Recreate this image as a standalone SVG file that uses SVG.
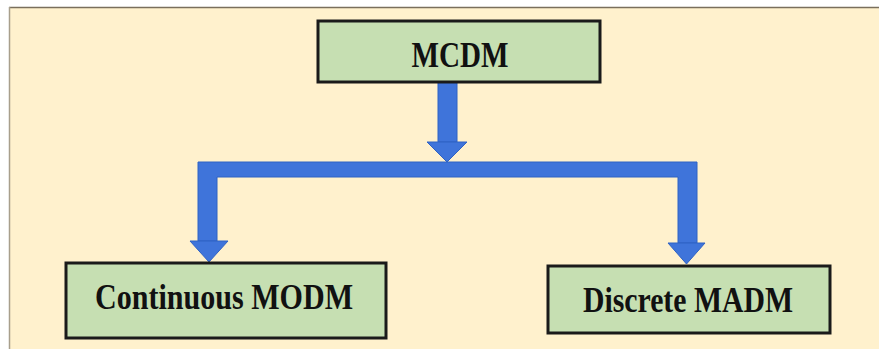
<svg xmlns="http://www.w3.org/2000/svg" width="879" height="349" viewBox="0 0 879 349">
  <style>
    .bg { fill: #FFF1CD; }
    .box { fill: #C6DFB2; stroke: #1A1A1A; stroke-width: 3; }
    .lbl { font-family: "Liberation Serif", "Times New Roman", serif; font-weight: bold; fill: #111; text-anchor: middle; }
    .arr { fill: #3F74DA; stroke: #2F62C4; stroke-width: 1; }
  </style>
  <rect x="0" y="0" width="879" height="349" fill="#FFFFFF"/>
  <rect class="bg" x="9" y="7" width="870" height="342"/>
  <line x1="9" y1="7.5" x2="879" y2="7.5" stroke="#7A6F5C" stroke-width="1.5"/>
  <line x1="9.5" y1="7" x2="9.5" y2="349" stroke="#A89F8C" stroke-width="1.5"/>

  <g id="connectors">
    <rect class="arr" x="438" y="82" width="19" height="60"/>
    <polygon class="arr" points="427,142 467,142 447,162"/>
    <path class="arr" d="M198,162 L697,162 L697,243 L678,243 L678,177 L217,177 L217,241 L198,241 Z"/>
    <polygon class="arr" points="190,241 228,241 209,262"/>
    <polygon class="arr" points="668,243 705,243 686.5,264"/>
  </g>

  <g id="node-mcdm">
    <rect class="box" x="318" y="21" width="282" height="61"/>
    <text class="lbl" x="460" y="67" font-size="36" textLength="97" lengthAdjust="spacingAndGlyphs">MCDM</text>
  </g>

  <g id="node-modm">
    <rect class="box" x="66" y="263" width="320" height="75"/>
    <text class="lbl" x="224" y="309" font-size="36" textLength="258" lengthAdjust="spacingAndGlyphs">Continuous MODM</text>
  </g>

  <g id="node-madm">
    <rect class="box" x="548" y="266" width="282" height="67"/>
    <text class="lbl" x="688" y="312" font-size="36" textLength="210" lengthAdjust="spacingAndGlyphs">Discrete MADM</text>
  </g>
</svg>
